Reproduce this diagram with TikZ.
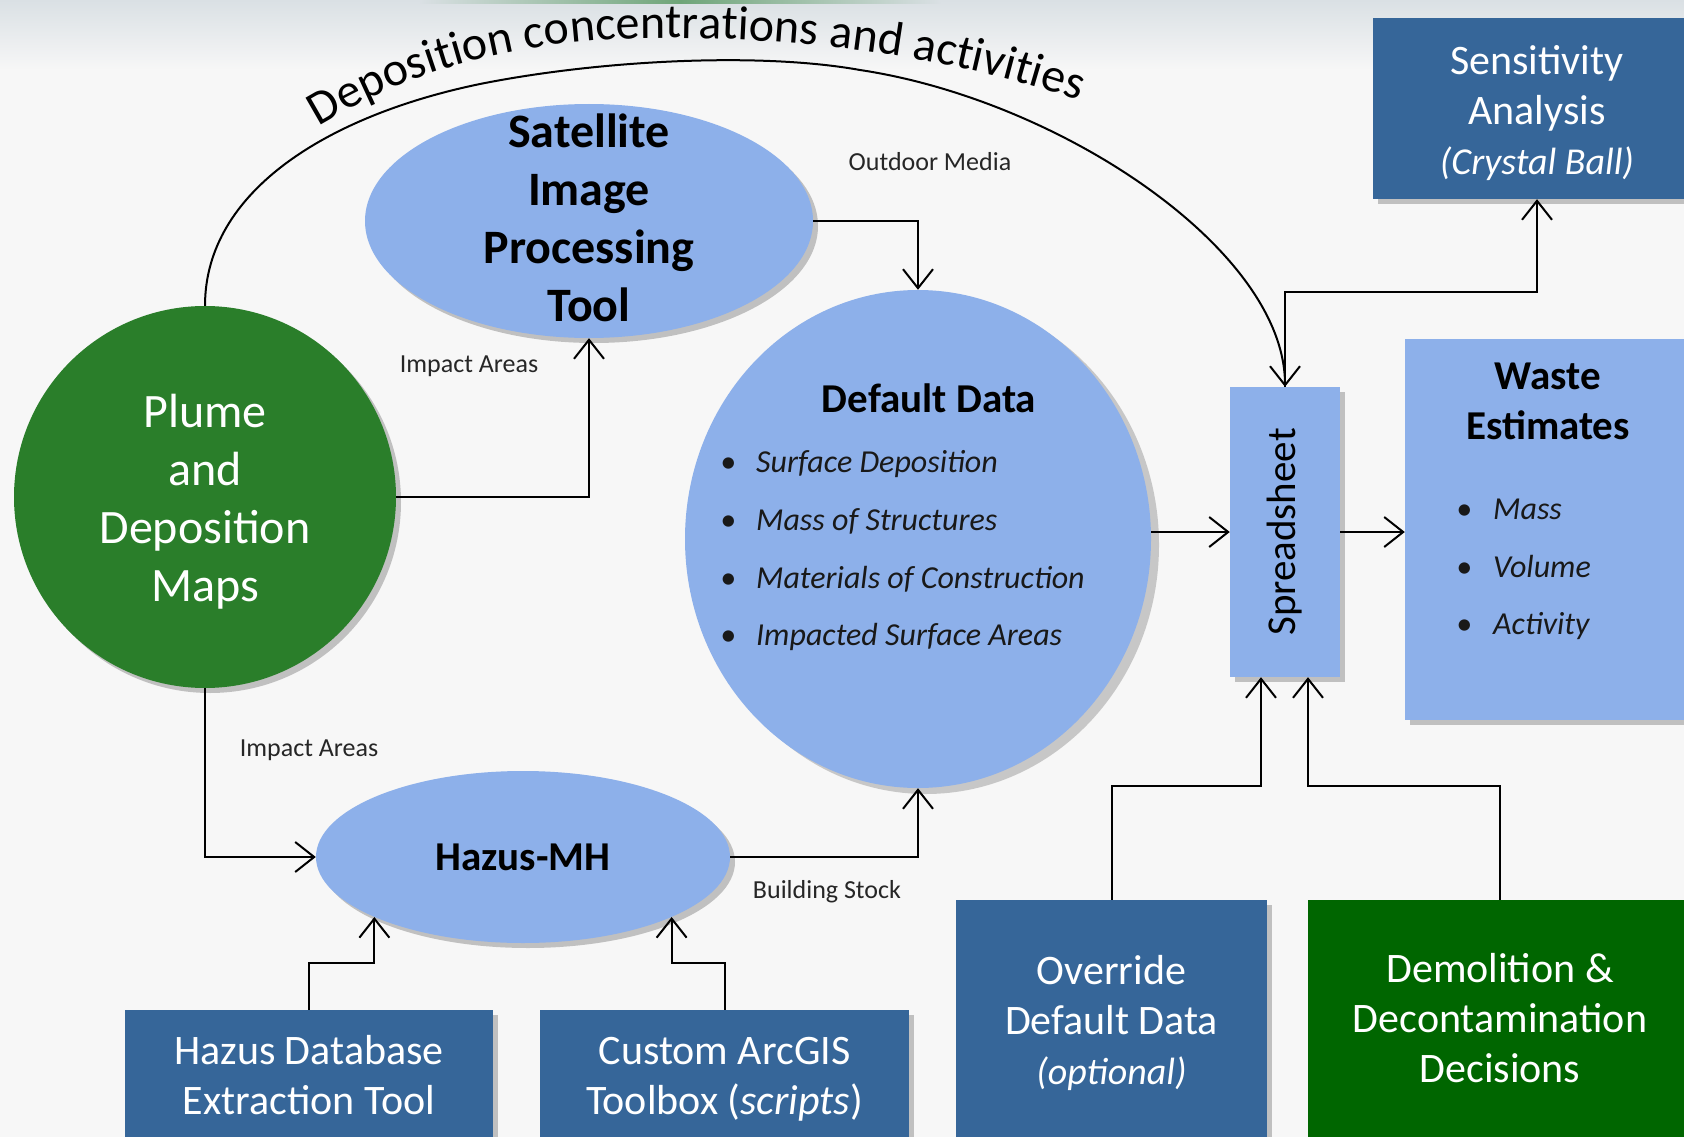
\documentclass[tikz,border=0pt]{standalone}
\usepackage{fontspec}
\setmainfont{Carlito}
\usetikzlibrary{arrows.meta,shapes.geometric,shadows,decorations.text,calc}
\definecolor{bg}{RGB}{247,247,247}
\definecolor{lblue}{RGB}{141,176,234}
\definecolor{dblue}{RGB}{54,102,153}
\definecolor{pgreen}{RGB}{42,126,42}
\definecolor{dgreen}{RGB}{0,102,0}
\definecolor{topgray}{RGB}{218,224,228}
\definecolor{topgreen}{RGB}{110,165,120}
\newcommand{\fsz}[2]{\fontsize{#1}{#2}\selectfont}
\begin{document}
\begin{tikzpicture}[x=1pt,y=-1pt,
  conn/.style={line width=2pt,draw=black},
  arr/.style={conn,-{Straight Barb[length=19pt,width=30pt,line width=2pt]}},
  shad/.style={drop shadow={shadow xshift=5pt,shadow yshift=-5pt,fill=black,opacity=0.22}},
  blob/.style={draw=none,fill=lblue,shad,inner sep=0pt},
  dbox/.style={rectangle,fill=dblue,shad,inner sep=0pt},
  boxtext/.style={text=white,inner sep=0pt,align=center,font=\fsz{42}{50}},
  lbl/.style={font=\fsz{26}{30},text=black!85,inner sep=0pt},
  bul/.style={font=\fsz{32}{37}\itshape,text=black!90,inner sep=0pt,anchor=base west},
  bigbold/.style={font=\fsz{48}{58}\bfseries,align=center,inner sep=0pt},
  midbold/.style={font=\fsz{41}{50}\bfseries,align=center,inner sep=0pt},
]
\useasboundingbox (0,0) rectangle (1684,1137);
\fill[bg] (0,0) rectangle (1684,1137);
\shade[top color=topgray,bottom color=bg] (0,0) rectangle (1684,70);
\shade[left color=topgray,right color=topgray,middle color=topgreen] (420,0) rectangle (940,4);

% shapes
\node[circle,fill=pgreen,minimum size=382pt,inner sep=0pt,shad] (plume) at (205,497) {};
\node[text=white,align=center,font=\fsz{48}{58},inner sep=0pt] (plumetext) at (205,502) {Plume\\and\\Deposition\\Maps};

\node[ellipse,blob,minimum width=448pt,minimum height=234pt] (sat) at (589,221) {};
\node[bigbold] (sattext) at (589,218) {Satellite\\Image\\Processing\\Tool};

\node[ellipse,draw=none,fill=lblue,minimum width=466pt,minimum height=498pt,inner sep=0pt,
  drop shadow={shadow xshift=8pt,shadow yshift=-6pt,fill=black!40}] (dd) at (918,539) {};
\node[midbold] (ddtitle) at (929,398) {Default Data};
\node[bul] (dd1) at (720,472) {\makebox[36pt][l]{•}Surface Deposition};
\node[bul] (dd2) at (720,530) {\makebox[36pt][l]{•}Mass of Structures};
\node[bul] (dd3) at (720,588) {\makebox[36pt][l]{•}Materials of Construction};
\node[bul] (dd4) at (720,645) {\makebox[36pt][l]{•}Impacted Surface Areas};

\node[ellipse,blob,minimum width=414pt,minimum height=172pt,font=\fsz{41}{50}\bfseries] (hazus) at (523,857) {Hazus-MH};

\node[rectangle,blob,minimum width=110pt,minimum height=290pt] (spread) at (1285,532) {};
\node[rotate=90,font=\fsz{41}{50},inner sep=0pt] (spreadtext) at (spread.center) {Spreadsheet};

\node[rectangle,blob,minimum width=286pt,minimum height=381pt] (waste) at (1548,529.5) {};
\node[midbold] (wastetitle) at (1548,401) {Waste\\Estimates};
\node[bul] (w1) at (1456,519) {\makebox[37pt][l]{•}Mass};
\node[bul] (w2) at (1456,577) {\makebox[37pt][l]{•}Volume};
\node[bul] (w3) at (1456,634) {\makebox[37pt][l]{•}Activity};

\node[dbox,minimum width=328pt,minimum height=181pt] (sens) at (1537,108.5) {};
\node[boxtext] (senstext) at (1537,113) {Sensitivity\\Analysis\\{\fsz{38}{50}\itshape (Crystal Ball)}};
\node[dbox,minimum width=311pt,minimum height=240pt] (over) at (1111.5,1020) {};
\node[boxtext] (overtext) at (1111.5,1023) {Override\\Default Data\\{\fsz{38}{50}\itshape (optional)}};
\node[dbox,fill=dgreen,minimum width=384pt,minimum height=240pt] (demol) at (1500,1020) {};
\node[boxtext] (demoltext) at (1500,1018) {Demolition \&\\Decontamination\\Decisions};
\node[dbox,minimum width=368pt,minimum height=130pt] (hdb) at (309,1075) {};
\node[boxtext] (hdbtext) at (309,1075) {Hazus Database\\Extraction Tool};
\node[dbox,minimum width=369pt,minimum height=130pt] (arcgis) at (724.5,1075) {};
\node[boxtext] (arcgistext) at (724.5,1079) {Custom ArcGIS\\Toolbox (\textit{scripts})};

% labels
\node[lbl] (la1) at (469,366) {Impact Areas};
\node[lbl] (la2) at (930,162) {Outdoor Media};
\node[lbl] (la3) at (309,750) {Impact Areas};
\node[lbl] (la4) at (827,892) {Building Stock};

% arc and its text
\draw[arr] (plume.north) .. controls (205,190) and (330,115) .. (480,84)
  .. controls (600,60) and (760,52) .. (860,70)
  .. controls (1060,100) and (1285,250) .. (spread.north);
\path[decorate,decoration={text along path,text align=center,text={|\fsz{48}{58}|Deposition concentrations and activities}}]
  (316,128) .. controls (420,64) and (530,40) .. (650,38) .. controls (800,37) and (950,55) .. (1082,102);

% connectors
\draw[arr] (plume.east) -| (sat.south);
\draw[arr] (sat.east) -| (dd.north);
\draw[arr] (plume.south) |- (hazus.west);
\draw[arr] (hazus.east) -| (dd.south);
\draw[arr] (hdb.north) -- ++(0,-47) -| (hazus.202.4);
\draw[arr] (arcgis.north) -- ++(0,-47) -| (hazus.-22.4);
\draw[arr] (dd.east |- spread.west) -- (spread.west);
\draw[arr] (spread.east) -- (spread.east -| waste.west);
\draw[arr] (spread.north) -- ++(0,-95) -| (sens.south);
\draw[arr] (over.north) -- ++(0,-114) -| ($(spread.south)+(-24,0)$);
\draw[arr] (demol.north) -- ++(0,-114) -| ($(spread.south)+(23,0)$);
\end{tikzpicture}
\end{document}
